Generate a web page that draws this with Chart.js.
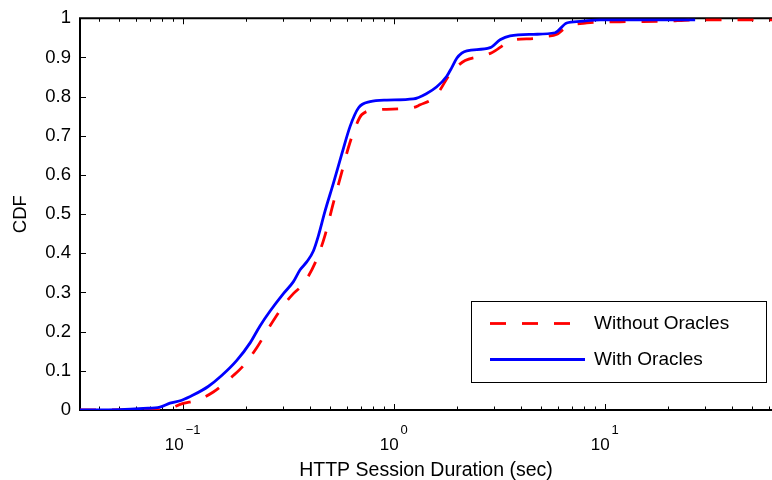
<!DOCTYPE html>
<html>
<head>
<meta charset="utf-8">
<title>HTTP Session Duration CDF</title>
<script src="https://cdn.jsdelivr.net/npm/chart.js@4/dist/chart.umd.min.js"></script>
<style>
  html, body { margin: 0; padding: 0; background: #fff; }
  #wrap { width: 772px; height: 480px; }
</style>
</head>
<body>
<div id="wrap"><canvas id="cdfChart" width="772" height="480"></canvas></div>
<script>
// CDF of HTTP session duration, with / without oracles (log x axis)

const seriesNames = ["Without Oracles", "With Oracles"];

// Without Oracles (red dashed)
const withoutX = [0.0326, 0.0809, 0.1006, 0.1165, 0.1396, 0.1737, 0.1937, 0.2243, 0.2594, 0.3055,
  0.3344, 0.373, 0.4316, 0.4723, 0.5171, 0.5672, 0.6098, 0.6559, 0.7055, 0.83,
  1.239, 1.333, 1.542, 1.657, 1.815, 1.989, 2.178, 2.565, 2.913, 3.367,
  3.689, 4.588, 5.21, 5.93, 6.37, 6.72, 8.22, 11.8, 18.3, 28.2, 62];
const withoutY = [0, 0, 0.017, 0.025, 0.046, 0.088, 0.113, 0.159, 0.215, 0.272,
  0.297, 0.322, 0.385, 0.446, 0.528, 0.607, 0.670, 0.720, 0.754, 0.766,
  0.772, 0.779, 0.796, 0.817, 0.852, 0.876, 0.892, 0.903, 0.912, 0.934,
  0.945, 0.948, 0.953, 0.959, 0.972, 0.980, 0.988, 0.991, 0.992, 0.996, 0.996];

// With Oracles (blue solid)
const withX = [0.0326, 0.05, 0.065, 0.078, 0.087, 0.099, 0.112, 0.132, 0.153, 0.18,
  0.209, 0.232, 0.259, 0.3, 0.334, 0.36, 0.387, 0.416, 0.439, 0.472,
  0.517, 0.567, 0.621, 0.68, 0.772, 0.927, 1.239, 1.433, 1.599, 1.783,
  1.883, 1.989, 2.1, 2.219, 2.861, 3.19, 3.557, 4.588, 5.811, 6.6, 7.64, 9.5, 26.8];
const withY = [0, 0.001, 0.004, 0.0075, 0.0176, 0.025, 0.038, 0.060, 0.088, 0.126,
  0.172, 0.214, 0.252, 0.297, 0.327, 0.358, 0.378, 0.406, 0.444, 0.507,
  0.578, 0.653, 0.724, 0.771, 0.787, 0.791, 0.794, 0.808, 0.825, 0.852,
  0.874, 0.898, 0.911, 0.917, 0.925, 0.945, 0.955, 0.959, 0.963, 0.988, 0.992, 0.996, 0.996];

// axis
const xMin = 0.0326, xMax = 62;
const xMajorTicks = [0.1, 1, 10];
const xMajorExp = ["\u22121", "0", "1"];
const yTicks = [0, 0.1, 0.2, 0.3, 0.4, 0.5, 0.6, 0.7, 0.8, 0.9, 1];

const FONT = "'Liberation Sans', Arial, Helvetica, sans-serif";
Chart.defaults.font.family = FONT;
Chart.defaults.color = "#000";

function toPoints(xs, ys){
  return xs.map((x, i) => ({ x: x, y: ys[i] }));
}

// minor ticks for the log axis: 2..9 times each decade
function logTickValues(){
  const out = [];
  for (let e = -2; e <= 2; e++){
    for (let m = 1; m <= 9; m++){
      const v = m * Math.pow(10, e);
      if (v >= xMin && v <= xMax) out.push(v);
    }
  }
  return out;
}

// frame + inward ticks, like matlab
const framePlugin = {
  id: "frame",
  beforeDatasetsDraw(chart){
    const { ctx, chartArea: a, scales } = chart;
    const xs = scales.x, ys = scales.y;
    ctx.save();
    ctx.strokeStyle = "#000";
    ctx.lineWidth = 1;
    for (const v of logTickValues()){
      const px = Math.round(xs.getPixelForValue(v)) + 0.5;
      const major = xMajorTicks.includes(v);
      const len = major ? 6 : 3.5;
      ctx.beginPath();
      ctx.moveTo(px, a.bottom); ctx.lineTo(px, a.bottom - len);
      ctx.moveTo(px, a.top); ctx.lineTo(px, a.top + len);
      ctx.stroke();
    }
    for (const v of yTicks){
      const py = Math.round(ys.getPixelForValue(v)) + 0.5;
      ctx.beginPath();
      ctx.moveTo(a.left, py); ctx.lineTo(a.left + 6, py);
      ctx.stroke();
    }
    ctx.lineWidth = 2;
    ctx.beginPath();
    ctx.moveTo(a.right + 2, a.top);
    ctx.lineTo(a.left, a.top);
    ctx.lineTo(a.left, a.bottom);
    ctx.lineTo(a.right + 2, a.bottom);
    ctx.stroke();
    ctx.restore();
  },
  afterDraw(chart){
    const { ctx, chartArea: a, scales } = chart;
    const xs = scales.x;
    ctx.save();
    ctx.fillStyle = "#000";
    ctx.textBaseline = "alphabetic";
    ctx.textAlign = "left";
    // 10^n labels
    xMajorTicks.forEach((v, i) => {
      const px = xs.getPixelForValue(v);
      ctx.font = "17px " + FONT;
      const wb = ctx.measureText("10").width;
      ctx.font = "13px " + FONT;
      const we = ctx.measureText(xMajorExp[i]).width;
      const gap = 2;
      const x0 = px - (wb + gap + we) / 2;
      ctx.font = "17px " + FONT;
      ctx.fillText("10", x0, a.bottom + 40);
      ctx.font = "13px " + FONT;
      ctx.fillText(xMajorExp[i], x0 + wb + gap, a.bottom + 24);
    });

    // legend box
    const bx = 471, by = 301, bw = 295, bh = 81;
    ctx.fillStyle = "#fff";
    ctx.fillRect(bx, by, bw, bh);
    ctx.strokeStyle = "#000";
    ctx.lineWidth = 1;
    ctx.strokeRect(bx + 0.5, by + 0.5, bw, bh);

    const ds = chart.data.datasets;
    const rows = [323.5, 359.5];
    ds.forEach((d, i) => {
      ctx.strokeStyle = d.borderColor;
      ctx.lineWidth = d.borderWidth;
      ctx.setLineDash(d.borderDash || []);
      ctx.beginPath();
      ctx.moveTo(490, rows[i]);
      ctx.lineTo(585, rows[i]);
      ctx.stroke();
      ctx.setLineDash([]);
      ctx.fillStyle = "#000";
      ctx.font = "19px " + FONT;
      ctx.textBaseline = "middle";
      ctx.fillText(d.label, 594, rows[i]);
    });
    ctx.restore();
  }
};

const chart = new Chart(document.getElementById("cdfChart"), {
  type: "line",
  data: {
    datasets: [
      {
        label: seriesNames[0],
        data: toPoints(withoutX, withoutY),
        borderColor: "#ff0000",
        borderWidth: 2.8,
        borderDash: [16, 16],
        pointRadius: 0,
        cubicInterpolationMode: "monotone",
        fill: false,
        order: 2
      },
      {
        label: seriesNames[1],
        data: toPoints(withX, withY),
        borderColor: "#0000ff",
        borderWidth: 2.8,
        pointRadius: 0,
        cubicInterpolationMode: "monotone",
        fill: false,
        order: 1
      }
    ]
  },
  options: {
    responsive: false,
    animation: false,
    devicePixelRatio: 1,
    layout: { padding: { left: 0, right: 0, top: 12, bottom: 0 } },
    plugins: { legend: { display: false }, tooltip: { enabled: false } },
    scales: {
      x: {
        type: "logarithmic",
        min: xMin,
        max: xMax,
        grid: { display: false, drawTicks: false },
        border: { display: false },
        ticks: { display: false },
        title: {
          display: true,
          text: "HTTP Session Duration (sec)",
          font: { size: 19.5, lineHeight: 1 },
          padding: { top: 0, bottom: 0 }
        },
        afterFit(scale){ scale.height = 70; }
      },
      y: {
        min: 0,
        max: 1,
        grid: { display: false, drawTicks: false },
        border: { display: false },
        afterBuildTicks(scale){ scale.ticks = yTicks.map(v => ({ value: v })); },
        ticks: {
          padding: 9,
          font: { size: 18.5, lineHeight: 1 },
          callback: (v) => (v === 0 || v === 1) ? String(v) : v.toFixed(1)
        },
        title: {
          display: true,
          text: "CDF",
          font: { size: 18.5, lineHeight: 1 },
          padding: { top: 11.5, bottom: 0 }
        },
        afterFit(scale){ scale.width = 80; }
      }
    }
  },
  plugins: [framePlugin]
});
</script>
</body>
</html>
